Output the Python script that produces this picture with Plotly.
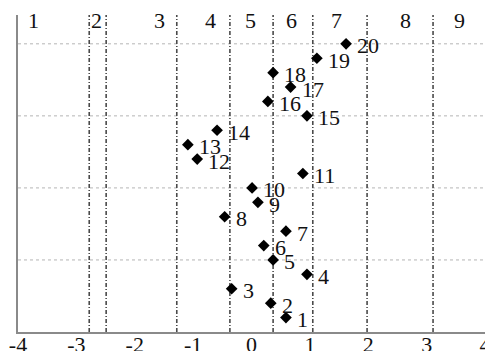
import plotly.graph_objects as go

# point data: x position and index (y)
point_ids = list(range(1, 21))
point_x = [0.59, 0.33, -0.34, 0.95, 0.37, 0.21, 0.59, -0.46, 0.11, 0.01,
           0.88, -0.93, -1.09, -0.59, 0.95, 0.28, 0.67, 0.37, 1.12, 1.62]
point_labels = [str(i) for i in point_ids]

# vertical dash-dot boundaries
boundary_x = [-2.78, -2.49, -1.28, -0.37, 0.37, 1.05, 1.98, 3.11]
# horizontal dotted gridlines
grid_y = [5, 10, 15, 20]
# region labels at top
region_labels = ["1", "2", "3", "4", "5", "6", "7", "8", "9"]
region_x = [-3.73, -2.65, -1.57, -0.71, -0.01, 0.69, 1.46, 2.63, 3.57]

x_ticks = [-4, -3, -2, -1, 0, 1, 2, 3, 4]

FONT = "Liberation Serif, Times New Roman, serif"
FS = 22

fig = go.Figure()

shapes = []
for gy in grid_y:
    shapes.append(dict(type="line", xref="x", yref="y", x0=-4, x1=4, y0=gy, y1=gy,
                       line=dict(color="#b5b5b5", width=1, dash="dot"), layer="below"))
for bx in boundary_x:
    shapes.append(dict(type="line", xref="x", yref="y", x0=bx, x1=bx, y0=0, y1=22,
                       line=dict(color="#4a4a4a", width=1.6, dash="4px,2px,1px,2px"),
                       layer="below"))

fig.add_trace(go.Scatter(
    x=point_x, y=point_ids, mode="markers",
    marker=dict(symbol="diamond", size=9, color="black"),
    cliponaxis=False, showlegend=False, hoverinfo="skip"))

annotations = []
for lbl, px, py in zip(point_labels, point_x, point_ids):
    annotations.append(dict(x=px, y=py, xref="x", yref="y", text=lbl, showarrow=False,
                            font=dict(family=FONT, size=FS, color="#111111"),
                            xanchor="left", yanchor="middle", xshift=9, yshift=-2))
for lbl, rx in zip(region_labels, region_x):
    annotations.append(dict(x=rx, y=21.6, xref="x", yref="y", text=lbl, showarrow=False,
                            font=dict(family=FONT, size=FS, color="#111111"),
                            xanchor="center", yanchor="middle"))

# page body has an 8px default margin, so the figure is sized to fit the window
fig.update_layout(
    width=485, height=343,
    margin=dict(l=10, r=8, t=7, b=19, autoexpand=False),
    paper_bgcolor="white", plot_bgcolor="white",
    shapes=shapes, annotations=annotations,
    xaxis=dict(range=[-4, 4], tickvals=x_ticks, ticktext=[str(t) for t in x_ticks],
               showgrid=False, zeroline=False, showline=True, linecolor="#8a8a8a",
               linewidth=1.5, ticks="", automargin=False, ticklabelstandoff=-8,
               tickfont=dict(family=FONT, size=FS, color="#111111")),
    yaxis=dict(range=[0, 22], showgrid=False, zeroline=False, showline=True,
               linecolor="#8a8a8a", linewidth=1.5, showticklabels=False, ticks="",
               automargin=False),
)

fig.write_html("out.html")
